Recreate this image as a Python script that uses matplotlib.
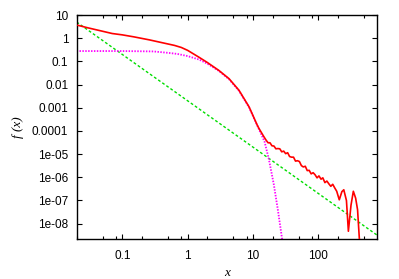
import matplotlib
matplotlib.use('Agg')
import matplotlib.pyplot as plt
from matplotlib.ticker import FixedLocator, FixedFormatter, LogLocator, NullFormatter

# red curve: measured f(x)
red_x = [0.021, 0.03, 0.05, 0.07, 0.1, 0.15, 0.26, 0.4, 0.63, 0.8, 1.0, 1.5, 2.0, 3.0, 4.3,
         6.1, 8.7, 11.6, 12.3, 14.7,
         15.8, 17.0, 18.2, 19.5, 20.9, 22.4, 24.0, 25.7, 27.5, 29.5, 31.6, 33.9, 36.3,
         38.9, 41.7, 44.7, 47.9, 51.3, 55.0, 58.9, 63.1, 67.6, 72.4, 77.6, 83.2, 89.1,
         95.5, 102, 110, 117, 126, 135, 145, 155, 166, 178, 191, 209, 229, 245, 269,
         288, 316, 343, 372, 398, 427, 442]
red_y = [3.6, 2.8, 2.0, 1.6, 1.4, 1.15, 0.85, 0.65, 0.49, 0.40, 0.30, 0.15, 0.09, 0.041, 0.018,
         0.0057, 0.0011, 1.8e-4, 1.3e-4, 5.6e-5,
         4.07e-5, 3.09e-5, 3.09e-5, 2.29e-5, 2.24e-5, 1.70e-5, 1.74e-5, 1.70e-5, 1.26e-5,
         1.35e-5, 1.05e-5, 1.15e-5, 7.9e-6, 7.4e-6, 7.4e-6, 5.0e-6, 5.2e-6, 4.8e-6, 3.2e-6,
         2.8e-6, 3.0e-6, 1.95e-6, 2.0e-6, 1.41e-6, 1.58e-6, 1.29e-6, 9.5e-7, 1.15e-6,
         8.3e-7, 9.5e-7, 5.9e-7, 6.9e-7, 5.2e-7, 4.1e-7, 5.0e-7, 3.5e-7, 2.5e-7, 1.07e-7,
         2.4e-7, 2.9e-7, 1.0e-7, 4.7e-9, 6.3e-8, 2.5e-7, 1.26e-7, 4.0e-8, 1.6e-9, 3.2e-10]

# magenta dotted curve
mag_x = [0.02, 0.1, 0.3, 0.5, 0.7, 1.0, 1.5, 2.0, 3.0, 4.3, 6.1, 8.7, 12.3, 15.0, 17.5,
         20.8, 24.0, 28.0, 30.0]
mag_y = [0.28, 0.28, 0.27, 0.235, 0.21, 0.17, 0.12, 0.08, 0.039, 0.017, 0.0054, 0.00105,
         1.2e-4, 3.5e-5, 6e-6, 5e-7, 4e-8, 2e-9, 3e-10]

# green dashed power law
grn_x = [0.02, 780]
grn_y = [5.0, 3.3e-9]

ytick_vals = [10, 1, 0.1, 0.01, 0.001, 0.0001, 1e-05, 1e-06, 1e-07, 1e-08]
ytick_labels = ['10', '1', '0.1', '0.01', '0.001', '0.0001', '1e-05', '1e-06', '1e-07', '1e-08']
xtick_vals = [0.1, 1, 10, 100]
xtick_labels = ['0.1', '1', '10', '100']

plt.rcParams['font.family'] = ['Liberation Sans', 'DejaVu Sans']

fig = plt.figure(figsize=(3.99, 2.79), dpi=100)
ax = fig.add_axes([0.192, 0.142, 0.752, 0.804])

ax.plot(red_x, red_y, color='#ff0000', lw=1.2, zorder=3)
ax.plot(grn_x, grn_y, color='#00dd00', lw=1.0, ls=(0, (2, 1.6)), zorder=2)
ax.plot(mag_x, mag_y, color='#ff00ff', lw=1.3, ls=(0, (0.8, 0.8)), zorder=2)

ax.set_xscale('log')
ax.set_yscale('log')
ax.set_xlim(0.02, 780)
ax.set_ylim(2.1e-9, 10)

ax.xaxis.set_major_locator(FixedLocator(xtick_vals))
ax.xaxis.set_major_formatter(FixedFormatter(xtick_labels))
ax.xaxis.set_minor_locator(LogLocator(base=10, subs=(2, 5, 8), numticks=20))
ax.xaxis.set_minor_formatter(NullFormatter())
ax.yaxis.set_major_locator(FixedLocator(ytick_vals))
ax.yaxis.set_major_formatter(FixedFormatter(ytick_labels))
ax.yaxis.set_minor_locator(FixedLocator([]))

ax.tick_params(which='both', direction='in', top=True, right=True, width=0.8,
               labelsize=8.5)
ax.tick_params(axis='x', pad=8)
ax.tick_params(axis='y', pad=6)
ax.tick_params(which='major', length=3.6)
ax.tick_params(which='minor', length=1.9)
for s in ax.spines.values():
    s.set_linewidth(1.0)

ax.set_xlabel('x', family='Liberation Serif', style='italic', fontsize=9.5, labelpad=3)
ax.set_ylabel('f (x)', family='Liberation Serif', style='italic', fontsize=9.5, labelpad=6)

fig.savefig('out.png', dpi=100)
